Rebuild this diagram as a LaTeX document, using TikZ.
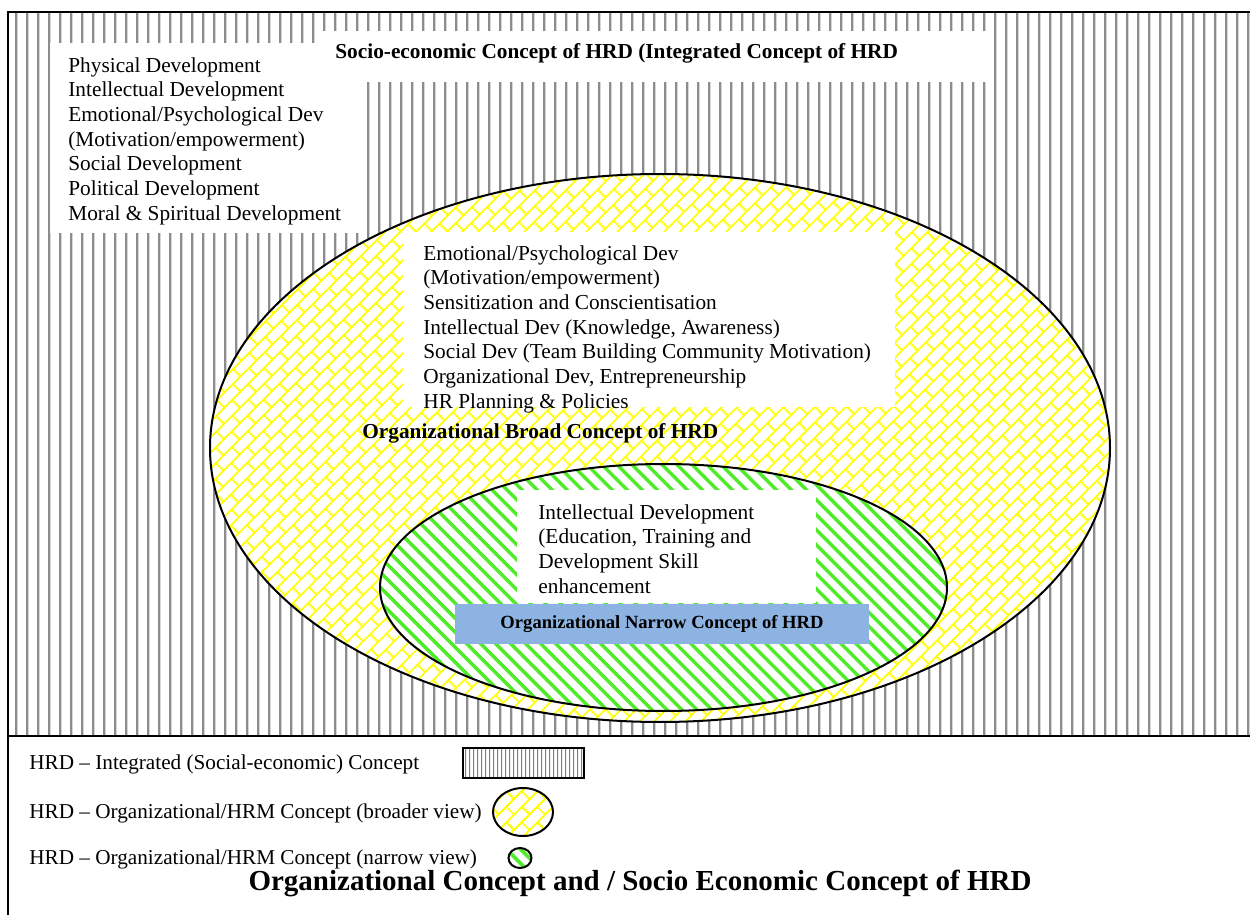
\documentclass[tikz,border=0pt]{standalone}
\usepackage{fontspec}
\setmainfont{Liberation Serif}
\usetikzlibrary{patterns.meta,shapes.geometric}
\definecolor{hatchgray}{RGB}{140,140,140}
\definecolor{brickyellow}{RGB}{255,255,0}
\definecolor{stripegreen}{RGB}{80,235,40}
\definecolor{labelblue}{RGB}{141,179,226}
\tikzdeclarepattern{
  name=vlines, type=uncolored,
  bounding box={(0,0) and (5.35pt,5.35pt)},
  tile size={(5.35pt,5.35pt)},
  code={\draw[line width=1.2pt] (2.675pt,-1pt) -- (2.675pt,6.35pt);}
}
\tikzdeclarepattern{
  name=vlinesfine, type=uncolored,
  bounding box={(0,0) and (1.8pt,1.8pt)},
  tile size={(1.8pt,1.8pt)},
  code={\draw[line width=0.5pt] (0.9pt,-1pt) -- (0.9pt,2.8pt);}
}
\tikzdeclarepattern{
  name=dbrick, type=uncolored,
  bounding box={(0,0) and (11pt,11pt)},
  tile size={(11pt,11pt)},
  tile transformation={rotate=45},
  code={
    \draw[line width=1pt] (-1pt,2.75pt) -- (12pt,2.75pt);
    \draw[line width=1pt] (-1pt,8.25pt) -- (12pt,8.25pt);
    \draw[line width=1pt] (2.75pt,2.75pt) -- (2.75pt,8.25pt);
    \draw[line width=1pt] (8.25pt,8.25pt) -- (8.25pt,12pt);
    \draw[line width=1pt] (8.25pt,-1pt) -- (8.25pt,2.75pt);
  }
}
\tikzdeclarepattern{
  name=gstripes, type=uncolored,
  bounding box={(0,0) and (5.4pt,5.4pt)},
  tile size={(5.4pt,5.4pt)},
  tile transformation={rotate=-45},
  code={\draw[line width=2pt] (-1pt,2.7pt) -- (6.4pt,2.7pt);}
}
\newcommand\bodyfont{\fontsize{10.65}{12.35}\selectfont}
\newcommand\boldlabelfont{\fontsize{10.65}{12.35}\selectfont\bfseries}
\newcommand\legendfont{\fontsize{10.6}{12}\selectfont}
\begin{document}
\begin{tikzpicture}[x=0.5pt,y=-0.5pt,
  bodytext/.style={font=\bodyfont, align=left, inner sep=0pt, anchor=north west},
  boldtext/.style={font=\boldlabelfont, inner sep=0pt, anchor=base west},
  legendtext/.style={font=\legendfont, inner sep=0pt, anchor=base west},
  whitebox/.style={fill=white, draw=none},
  vhatch/.style={preaction={fill=white}, pattern=vlines, pattern color=hatchgray},
  brickfill/.style={preaction={fill=white}, pattern=dbrick, pattern color=brickyellow},
  stripefill/.style={preaction={fill=white}, pattern=gstripes, pattern color=stripegreen},
  outline/.style={draw=black, line width=1pt}
]
\useasboundingbox (0,0) rectangle (1250,915);
\fill[white] (0,0) rectangle (1250,915);

% integrated (socio-economic) region
\path[vhatch] (8,12) rectangle (1250,736);

% white text boxes of the outer region
\path[whitebox] (315,31) rectangle (992,82);
\path[whitebox] (50,43) rectangle (367,233);

% broad ellipse
\path[brickfill, outline] (660,448) ellipse [x radius=450, y radius=274];
\path[whitebox] (403,232) rectangle (895,407);

% narrow ellipse
\path[stripefill, outline] (663.5,587.5) ellipse [x radius=283.5, y radius=123.5];
\path[whitebox] (517,490) rectangle (816,603);

% texts
\node[boldtext] (title) at (335,59) {Socio-economic Concept of HRD (Integrated Concept of HRD};
\node[bodytext] (outerlist) at (68,57) {Physical Development\\Intellectual Development\\Emotional/Psychological Dev\\(Motivation/empowerment)\\Social Development\\Political Development\\Moral \& Spiritual Development};
\node[bodytext] (broadlist) at (423,245) {Emotional/Psychological Dev\\(Motivation/empowerment)\\Sensitization and Conscientisation\\Intellectual Dev (Knowledge, Awareness)\\Social Dev (Team Building Community Motivation)\\Organizational Dev, Entrepreneurship\\HR Planning \& Policies};
\node[boldtext] (broadlabel) at (362,438) {Organizational Broad Concept of HRD};
\node[bodytext] (narrowlist) at (538,504) {Intellectual Development\\(Education, Training and\\Development Skill\\enhancement};
\node[fill=labelblue, minimum width=207pt, minimum height=20pt, inner sep=0pt,
      font=\fontsize{9.3}{11}\selectfont\bfseries] (narrowlabel) at (662,624) {Organizational Narrow Concept of HRD};

% frame lines
\draw[line width=0.9pt] (8,915) -- (8,12) -- (1250,12);
\draw[line width=1.3pt] (8,736) -- (1250,736);

% legend
\node[legendtext] (lg1) at (29,769) {HRD – Integrated (Social-economic) Concept};
\node[draw=black, line width=0.6pt, preaction={fill=white}, pattern=vlinesfine, pattern color=gray,
      minimum width=60.5pt, minimum height=15pt, inner sep=0pt] (key1) at (523.5,763) {};
\node[legendtext] (lg2) at (29,818) {HRD – Organizational/HRM Concept (broader view)};
\node[ellipse, brickfill, outline, minimum width=30pt, minimum height=24pt, inner sep=0pt] (key2) at (523,812) {};
\node[legendtext] (lg3) at (29,864) {HRD – Organizational/HRM Concept (narrow view)};
\node[ellipse, stripefill, outline, minimum width=11.5pt, minimum height=10pt, inner sep=0pt] (key3) at (520,858) {};
\node[font=\fontsize{14.5}{17}\selectfont\bfseries, inner sep=0pt] (maintitle) at (640,883) {Organizational Concept and / Socio Economic Concept of HRD};
\end{tikzpicture}
\end{document}
